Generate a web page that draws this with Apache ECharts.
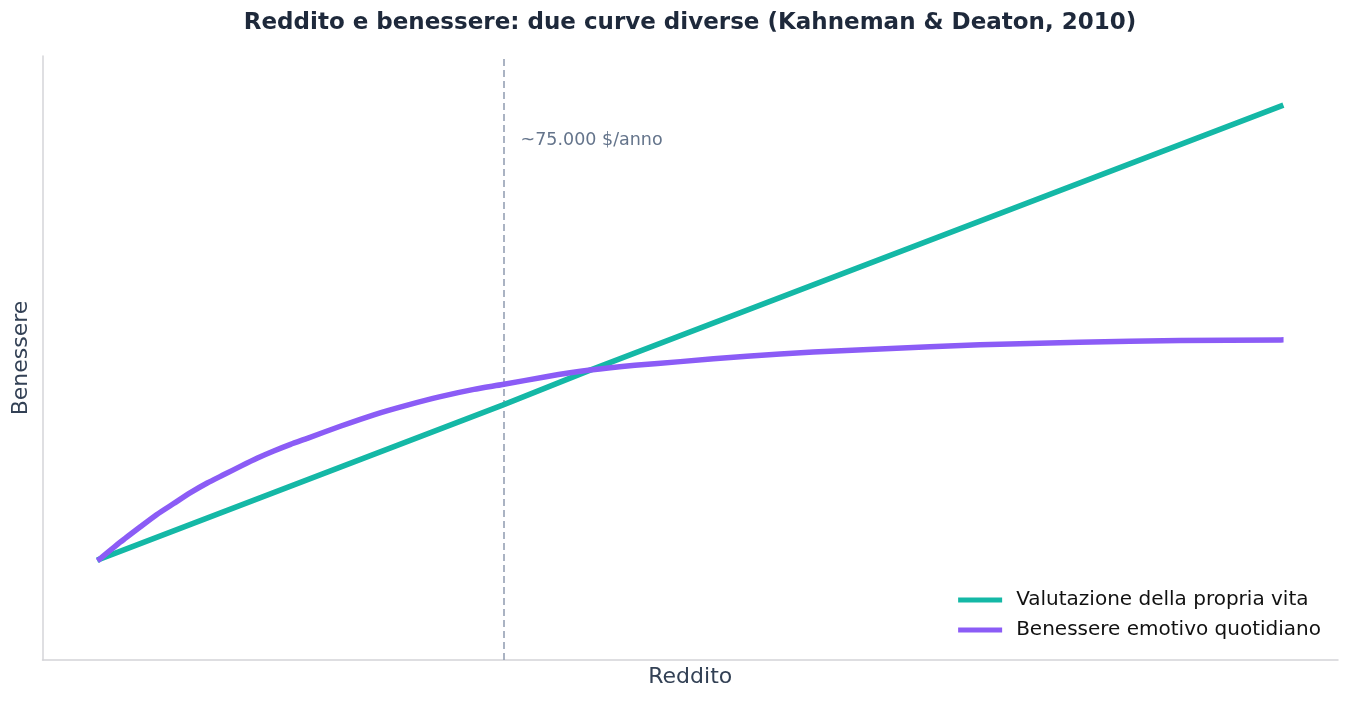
<!DOCTYPE html>
<html>
<head>
<meta charset="utf-8">
<script src="https://cdn.jsdelivr.net/npm/echarts@6/dist/echarts.min.js"></script>
<style>
html,body{margin:0;padding:0;background:#fff;}
#c{width:1352px;height:702px;}
</style>
</head>
<body>
<div id="c"></div>
<script>
// Income (thousand $/year) and well-being (arbitrary units)
const lifeEvalX = [10, 74.8, 88.9, 200];
const lifeEvalY = [16.7, 42.2, 48.0, 91.7];
const emotionX = [10, 13.3, 16.6, 19.2, 21.9, 24.6, 27.3, 30.0, 32.7, 35.3, 38.0, 40.7, 43.4, 48.7, 54.1, 59.5, 64.8, 70.2, 74.8, 81.8, 88.9, 96.1, 103.4, 114.1, 124.8, 135.5, 151.6, 167.6, 183.8, 200];
const emotionY = [16.7, 19.5, 22.1, 24.1, 25.9, 27.7, 29.3, 30.7, 32.1, 33.4, 34.6, 35.7, 36.7, 38.7, 40.6, 42.2, 43.6, 44.8, 45.6, 46.9, 48.0, 48.8, 49.4, 50.3, 51.0, 51.5, 52.2, 52.6, 52.9, 53.0];
const thresholdX = 75;
const thresholdLabel = '~75.000 $/anno';
const labelPoint = [77.7, 86.1];
const seriesNames = ['Valutazione della propria vita', 'Benessere emotivo quotidiano'];
const titleText = 'Reddito e benessere: due curve diverse (Kahneman & Deaton, 2010)';

const FONT = 'DejaVu Sans';
const zip = (xs, ys) => xs.map((x, i) => [x, ys[i]]);

const chart = echarts.init(document.getElementById('c'), null, {renderer: 'canvas'});
chart.setOption({
  animation: false,
  backgroundColor: '#ffffff',
  title: {
    text: titleText,
    left: 690,
    textAlign: 'center',
    top: 12,
    padding: 0,
    textStyle: {fontFamily: FONT, fontSize: 23, fontWeight: 'bold', color: '#1e293b'}
  },
  grid: {left: 42.5, right: 14, top: 56, bottom: 42, outerBoundsMode: 'none'},
  legend: {
    orient: 'vertical',
    right: 31,
    top: 590,
    padding: 0,
    itemGap: 10,
    itemWidth: 44,
    itemHeight: 5,
    icon: 'rect',
    textStyle: {fontFamily: FONT, fontSize: 20, color: '#111111', padding: [0, 0, 0, 9]},
    data: seriesNames
  },
  xAxis: {
    type: 'value',
    min: 0.8,
    max: 209.2,
    name: 'Reddito',
    nameLocation: 'middle',
    nameGap: 6,
    nameTextStyle: {fontFamily: FONT, fontSize: 22, color: '#334155', verticalAlign: 'top'},
    axisLine: {show: true, lineStyle: {color: '#d4d4d8', width: 1.5}},
    axisTick: {show: false},
    axisLabel: {show: false},
    splitLine: {show: false}
  },
  yAxis: {
    type: 'value',
    min: 0,
    max: 100,
    name: 'Benessere',
    nameLocation: 'middle',
    nameGap: 10,
    nameTextStyle: {fontFamily: FONT, fontSize: 22, color: '#334155'},
    axisLine: {show: true, lineStyle: {color: '#d4d4d8', width: 1.5}},
    axisTick: {show: false},
    axisLabel: {show: false},
    splitLine: {show: false}
  },
  series: [
    {
      name: seriesNames[0],
      type: 'line',
      data: zip(lifeEvalX, lifeEvalY),
      showSymbol: false,
      symbol: 'none',
      color: '#14b8a6',
      lineStyle: {color: '#14b8a6', width: 5.5, cap: 'square'},
      z: 3,
      markLine: {
        silent: true,
        symbol: ['none', 'none'],
        label: {show: false},
        lineStyle: {color: '#8e9bb0', width: 1.5, type: [7, 4]},
        data: [{xAxis: thresholdX}],
        z: 1
      },
      markPoint: {
        silent: true,
        symbol: 'circle',
        symbolSize: 0,
        itemStyle: {color: 'transparent'},
        label: {
          show: true,
          position: 'right',
          distance: 0,
          formatter: thresholdLabel,
          fontFamily: FONT,
          fontSize: 17.5,
          color: '#64748b'
        },
        data: [{coord: labelPoint}]
      }
    },
    {
      name: seriesNames[1],
      type: 'line',
      data: zip(emotionX, emotionY),
      showSymbol: false,
      symbol: 'none',
      smooth: 0.2,
      color: '#8b5cf6',
      lineStyle: {color: '#8b5cf6', width: 5.5, cap: 'square', join: 'round'},
      z: 4
    }
  ]
});
</script>
</body>
</html>
